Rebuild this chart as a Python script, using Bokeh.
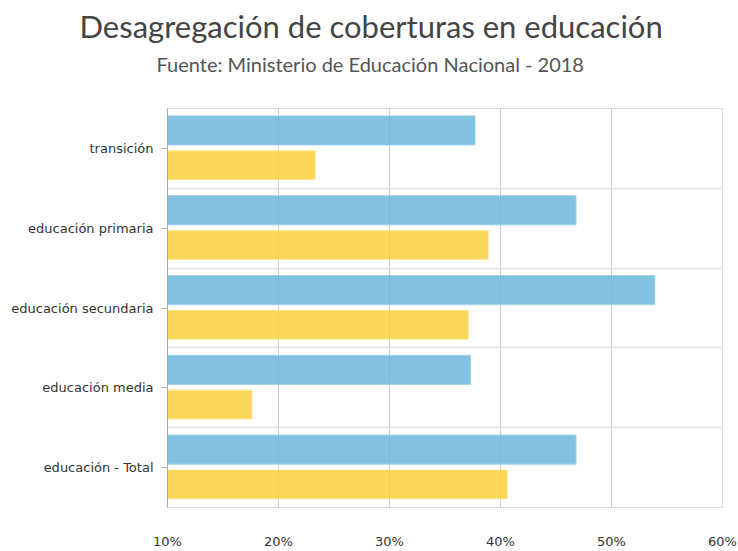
from bokeh.plotting import figure
from bokeh.models import Range1d, FixedTicker, PrintfTickFormatter, ColumnDataSource, Title
from bokeh.embed import file_html
from bokeh.resources import INLINE

categories = ["transición", "educación primaria", "educación secundaria", "educación media", "educación - Total"]
serie_azul = [37.7, 46.8, 53.9, 37.3, 46.8]
serie_amarilla = [23.3, 38.9, 37.1, 17.6, 40.6]
x_ticks = [10, 20, 30, 40, 50, 60]

title_text = "Desagregación de coberturas en educación"
subtitle_text = "Fuente: Ministerio de Educación Nacional - 2018"

W, H = 738, 551
n = len(categories)
centers = [n - 1 - i + 0.5 for i in range(n)]

p = figure(width=W, height=H, output_backend="svg", toolbar_location=None,
           x_range=Range1d(10, 60), y_range=Range1d(0, n),
           min_border_left=167, min_border_right=W - 722, min_border_top=108,
           min_border_bottom=H - 521)
p.background_fill_color = "white"
p.border_fill_color = "white"
p.outline_line_color = "#dddddd"

# titles stacked above the frame (first added = nearest the frame)
spacer = Title(text=" ", text_font_size="12px", standoff=16, align="left")
sub = Title(text=subtitle_text, text_font="Lato", text_font_size="20px", text_font_style="normal",
            text_color="#555555", align="left", offset=-11, standoff=0, vertical_align="middle")
main = Title(text=title_text, text_font="Lato", text_font_size="31px", text_font_style="normal",
             text_color="#444444", align="left", offset=-88, standoff=10, vertical_align="middle")
p.add_layout(spacer, "above")
p.add_layout(sub, "above")
p.add_layout(main, "above")

src = ColumnDataSource(dict(
    y_a=[c + 0.225 for c in centers],
    y_b=[c - 0.21 for c in centers],
    azul=serie_azul,
    amarilla=serie_amarilla,
))

p.hbar(y="y_a", left=10, right="azul", height=0.365, source=src,
       fill_color="#6cb8dc", fill_alpha=0.86, line_color="#9fd0ea", line_alpha=0.8, line_width=1.2)
p.hbar(y="y_b", left=10, right="amarilla", height=0.36, source=src,
       fill_color="#f9d03d", fill_alpha=0.86, line_color="#fde38a", line_alpha=0.8, line_width=1.2)

p.xaxis.ticker = FixedTicker(ticks=x_ticks)
p.xaxis.formatter = PrintfTickFormatter(format="%d%%")
p.xaxis.axis_line_color = None
p.xaxis.major_tick_line_color = None
p.xaxis.minor_tick_line_color = None
p.xaxis.major_label_standoff = 20
p.xaxis.major_label_text_font = "DejaVu Sans"
p.xaxis.major_label_text_font_size = "13px"
p.xaxis.major_label_text_color = "#333333"

p.yaxis.ticker = FixedTicker(ticks=centers)
p.yaxis.major_label_overrides = {c: cat for c, cat in zip(centers, categories)}
p.yaxis.axis_line_color = "#aaaaaa"
p.yaxis.major_tick_line_color = "#aaaaaa"
p.yaxis.major_tick_out = 6
p.yaxis.major_tick_in = 0
p.yaxis.minor_tick_line_color = None
p.yaxis.major_label_standoff = 8
p.yaxis.major_label_text_font = "DejaVu Sans"
p.yaxis.major_label_text_font_size = "13px"
p.yaxis.major_label_text_color = "#333333"

p.xgrid.ticker = FixedTicker(ticks=x_ticks)
p.xgrid.grid_line_color = "#cccccc"
p.ygrid.ticker = FixedTicker(ticks=list(range(n + 1)))
p.ygrid.grid_line_color = "#e2e2e2"
p.ygrid.grid_line_width = 1.5

open("out.html", "w").write(file_html(p, INLINE))
